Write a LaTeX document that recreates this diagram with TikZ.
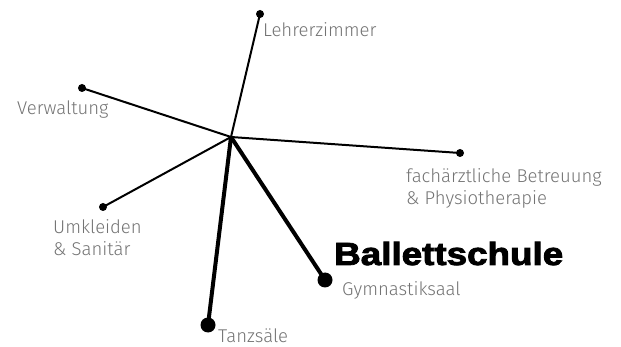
\documentclass[tikz,border=0pt]{standalone}
\usepackage{fontspec}
\setmainfont{TeX Gyre Heros}
\newfontfamily\lightfont{Fira Sans Light}
\newfontfamily\heavyfont{Liberation Sans Bold}[FakeBold=2.5]
\begin{document}
\begin{tikzpicture}[x=1pt,y=-1pt,
  lbl/.style={font=\lightfont\fontsize{18.5}{22}\selectfont, text=black!55, inner sep=0, anchor=base west, align=left},
  titlelbl/.style={font=\heavyfont\fontsize{32}{36}\selectfont, inner sep=0, anchor=base west},
  sdot/.style={circle, fill=black, inner sep=0, minimum size=8pt},
  bdot/.style={circle, fill=black, inner sep=0, minimum size=15pt},
  spoke/.style={line width=2pt},
  heavyspoke/.style={line width=4pt}]
\useasboundingbox (0,0) rectangle (621,347);
\coordinate (hub) at (231,137);
\node[sdot] (lz) at (260,14) {};
\node[sdot] (vw) at (82,88) {};
\node[sdot] (fa) at (460,153) {};
\node[sdot] (um) at (103,207) {};
\node[bdot] (gy) at (325,280) {};
\node[bdot] (ta) at (208,325) {};
\draw[spoke] (hub) -- (lz.center);
\draw[spoke] (hub) -- (vw.center);
\draw[spoke] (hub) -- (fa.center);
\draw[spoke] (hub) -- (um.center);
\draw[heavyspoke] (hub) -- (gy.center);
\draw[heavyspoke] (hub) -- (ta.center);
\node[lbl] (tlz) at (263,37) {Lehrerzimmer};
\node[lbl] (tvw) at (17,115) {Verwaltung};
\node[lbl] (tfa) at (406,205) {fachärztliche Betreuung\\\& Physiotherapie};
\node[lbl] (tum) at (53,256) {Umkleiden\\\& Sanitär};
\node[lbl] (tgy) at (342,295) {Gymnastiksaal};
\node[lbl] (tta) at (218,342) {Tanzsäle};
\node[titlelbl] (tb) at (334,265) {\scalebox{1.15}[1]{Ballettschule}};
\end{tikzpicture}
\end{document}
